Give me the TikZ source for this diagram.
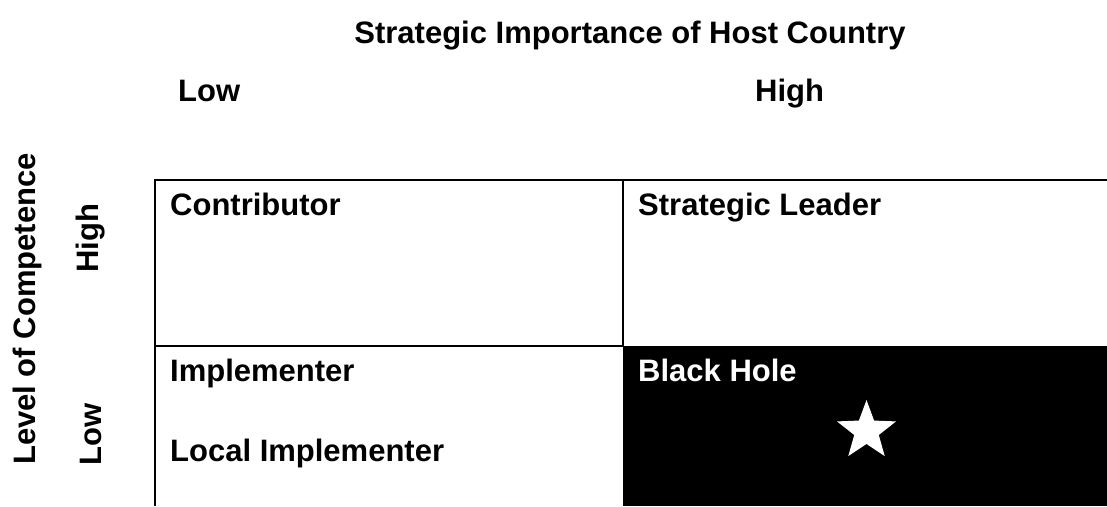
\documentclass[tikz,border=0pt]{standalone}
\usepackage{fontspec}
\setmainfont{Liberation Sans}
\usetikzlibrary{shapes.geometric}
\begin{document}
\begin{tikzpicture}[x=1pt,y=-1pt,
  lbl/.style={font=\fontsize{31}{37}\selectfont\bfseries, inner sep=0pt},
  cell/.style={lbl, anchor=base west},
  grid/.style={line width=2.4pt}]
\useasboundingbox (0,0) rectangle (1107,506);
\fill[black] (623,346) rectangle (1107,506);
\draw[grid] (155,506) -- (155,180) -- (1107,180);
\draw[grid] (623,180) -- (623,346);
\draw[grid] (155,346) -- (623,346);
\node[lbl, anchor=base] (title) at (630,43) {Strategic Importance of Host Country};
\node[lbl, anchor=base west] (xlow) at (178,101) {Low};
\node[lbl, anchor=base west] (xhigh) at (755,101) {High};
\node[lbl, rotate=90] (ylabel) at (27,309) {Level of Competence};
\node[lbl, rotate=90] (yhigh) at (91,238) {High};
\node[lbl, rotate=90] (ylow) at (91,434) {Low};
\node[cell] (contrib) at (170,215) {Contributor};
\node[cell] (leader) at (638,215) {Strategic Leader};
\node[cell] (impl) at (170,381) {Implementer};
\node[cell] (local) at (170,461) {Local Implementer};
\node[cell, text=white] (hole) at (638,381) {Black Hole};
\node[star, star points=5, star point ratio=2.4, fill=white, inner sep=0pt, minimum size=62pt] (star) at (866.5,431) {};
\end{tikzpicture}
\end{document}
